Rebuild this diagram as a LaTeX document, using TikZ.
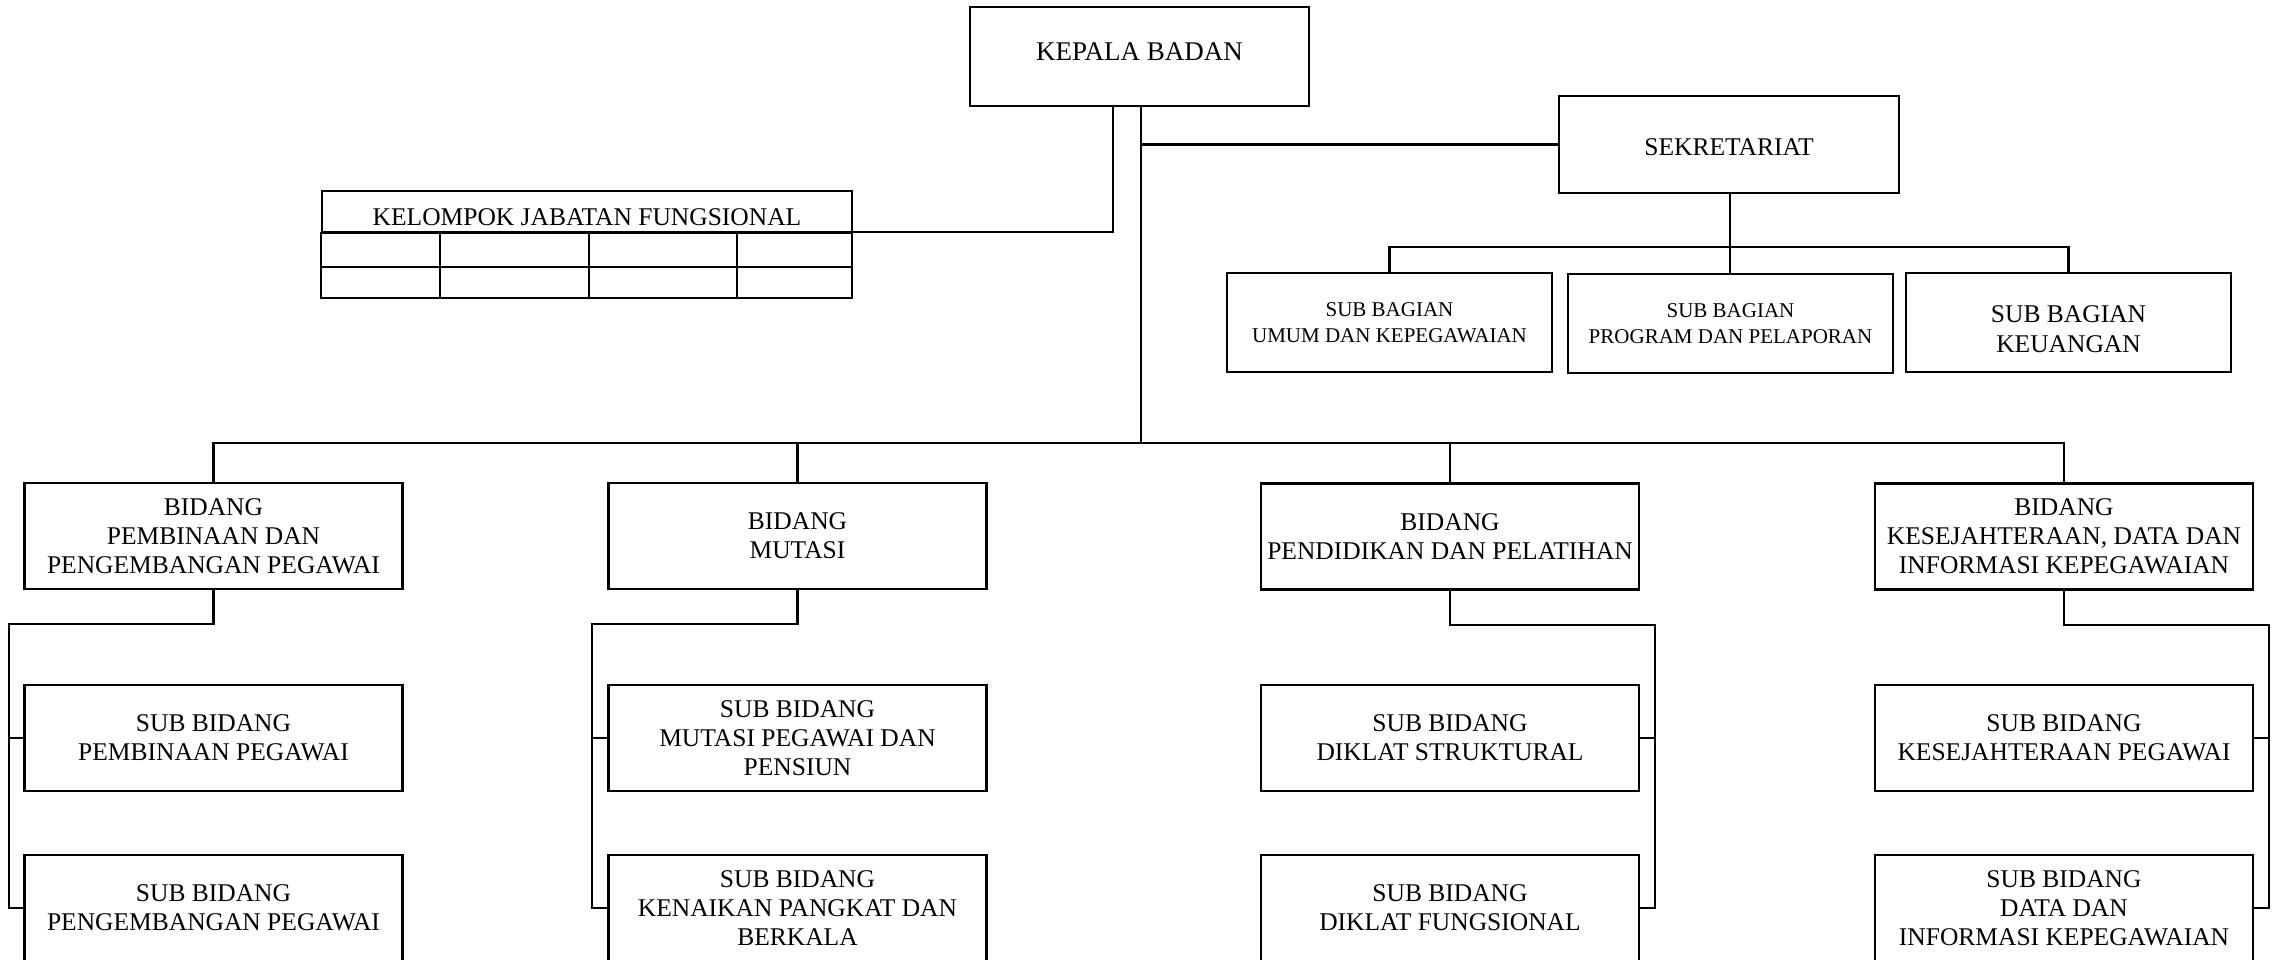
\documentclass[tikz,border=0pt]{standalone}
\usepackage{fontspec}
\setmainfont{Liberation Serif}
\begin{document}
\begin{tikzpicture}[x=1pt,y=-1pt,
  box/.style={draw=black, line width=2.4pt, inner sep=0pt, align=center,
    font=\fontsize{25.5}{29}\selectfont},
  bd/.style={box, minimum width=378pt, minimum height=106pt},
  sbg/.style={box, minimum width=325pt, minimum height=99pt},
  conn/.style={draw=black, line width=2.2pt}]
\clip (0,0) rectangle (2276,959);
\fill[white] (0,0) rectangle (2276,959);

% top level
\node[box, minimum width=339pt, minimum height=99pt] (kb) at (1139.5,56.5) {\raisebox{10pt}{\fontsize{27}{29}\selectfont KEPALA BADAN}};
\node[box, minimum width=340pt, minimum height=97pt,
  label={[font=\fontsize{25.5}{29}\selectfont, yshift=-3pt]center:SEKRETARIAT}] (sek) at (1729,144.5) {};

% kelompok jabatan fungsional table
\node[box, minimum width=530pt, minimum height=41pt,
  label={[font=\fontsize{25.5}{29}\selectfont, yshift=-6pt]center:KELOMPOK JABATAN FUNGSIONAL}] (kjf) at (587,211.5) {};
\coordinate (kjfbr) at (852,298);
\draw[line width=2.4pt] (kjf.south west) rectangle (kjfbr);
\draw[line width=2.4pt] (322,267) -- (852,267);
\foreach \cx in {440,589,737} \draw[line width=2.4pt] (\cx,232) -- (\cx,298);

% sub bagian
\node[sbg, font=\fontsize{21}{26}\selectfont] (sb1) at (1389.5,322.5) {SUB BAGIAN\\UMUM DAN KEPEGAWAIAN};
\node[sbg, font=\fontsize{21}{26}\selectfont] (sb2) at (1730.5,323.5) {SUB BAGIAN\\PROGRAM DAN PELAPORAN};
\node[sbg, label={[font=\fontsize{25.5}{30}\selectfont, align=center, yshift=-7pt]center:SUB BAGIAN\\KEUANGAN}] (sb3) at (2068.5,322.5) {};

% bidang
\node[bd] (b1) at (213.5,536) {BIDANG\\PEMBINAAN DAN\\PENGEMBANGAN PEGAWAI};
\node[bd] (b2) at (797.5,536) {BIDANG\\MUTASI};
\node[bd] (b3) at (1450,536.5) {BIDANG\\PENDIDIKAN DAN PELATIHAN};
\node[bd] (b4) at (2064,536.5) {BIDANG\\KESEJAHTERAAN, DATA DAN\\INFORMASI KEPEGAWAIAN};

% sub bidang row 1
\node[bd] (s1a) at (213.5,738) {SUB BIDANG\\PEMBINAAN PEGAWAI};
\node[bd] (s2a) at (797.5,738) {SUB BIDANG\\MUTASI PEGAWAI DAN\\PENSIUN};
\node[bd] (s3a) at (1450,738) {SUB BIDANG\\DIKLAT STRUKTURAL};
\node[bd] (s4a) at (2064,738) {SUB BIDANG\\KESEJAHTERAAN PEGAWAI};
% sub bidang row 2
\node[bd] (s1b) at (213.5,908) {SUB BIDANG\\PENGEMBANGAN PEGAWAI};
\node[bd] (s2b) at (797.5,908) {SUB BIDANG\\KENAIKAN PANGKAT DAN\\BERKALA};
\node[bd] (s3b) at (1450,908) {SUB BIDANG\\DIKLAT FUNGSIONAL};
\node[bd] (s4b) at (2064,908) {SUB BIDANG\\DATA DAN\\INFORMASI KEPEGAWAIAN};

% connectors from kepala badan
\coordinate (mvtop) at (1141,106);
\coordinate (bar) at (1141,443);
\coordinate (kvtop) at (1113,106);
\coordinate (kjfr) at (852,232);
\draw[conn] (mvtop) -- (bar);
\draw[conn] (kvtop) |- (kjfr);
\draw[conn] (sek.west) -- (sek.west -| mvtop);

% sekretariat to sub bagian
\coordinate (sbar) at (1730,247);
\draw[conn] (sek.south -| sbar) -- (sb2.north -| sbar);
\draw[conn] (sb1.north) -- (sb1.north |- sbar) -- (sb3.north |- sbar) -- (sb3.north);

% main bar to bidang
\draw[conn] (b1.north) -- (b1.north |- bar) -- (b4.north |- bar) -- (b4.north);
\draw[conn] (b2.north) -- (b2.north |- bar);
\draw[conn] (b3.north) -- (b3.north |- bar);

% bidang to sub bidang
\coordinate (l1) at (9,624);
\coordinate (l2) at (592,624);
\coordinate (r3) at (1655,625);
\coordinate (r4) at (2269,625);
\draw[conn] (b1.south) |- (l1) -- (l1 |- s1b.west) -- (s1b.west);
\draw[conn] (l1 |- s1a.west) -- (s1a.west);
\draw[conn] (b2.south) |- (l2) -- (l2 |- s2b.west) -- (s2b.west);
\draw[conn] (l2 |- s2a.west) -- (s2a.west);
\draw[conn] (b3.south) |- (r3) -- (r3 |- s3b.east) -- (s3b.east);
\draw[conn] (r3 |- s3a.east) -- (s3a.east);
\draw[conn] (b4.south) |- (r4) -- (r4 |- s4b.east) -- (s4b.east);
\draw[conn] (r4 |- s4a.east) -- (s4a.east);
\end{tikzpicture}
\end{document}
